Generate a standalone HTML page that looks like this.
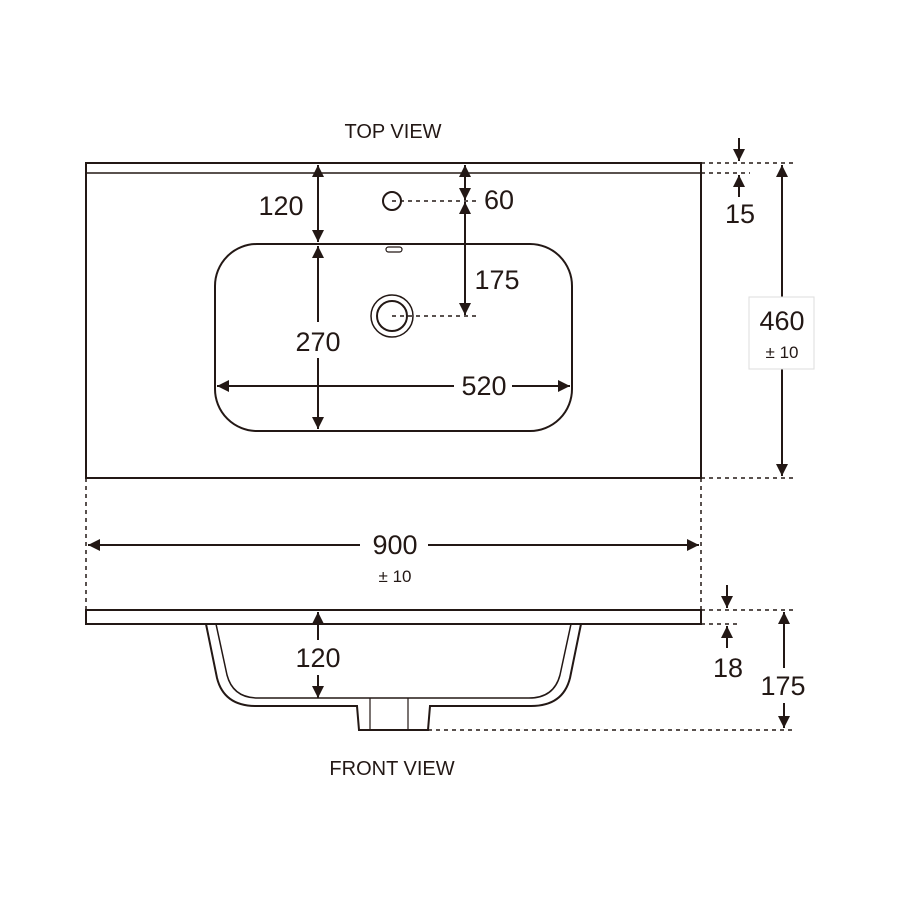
<!DOCTYPE html>
<html><head><meta charset="utf-8"><style>body{margin:0;background:#fff}svg{display:block}</style></head><body>
<svg width="900" height="900" viewBox="0 0 900 900" xmlns="http://www.w3.org/2000/svg" font-family="'Liberation Sans',sans-serif" fill="#231815">
<defs>
<marker id="a" viewBox="0 0 10 10" refX="10" refY="5" markerWidth="12" markerHeight="12" markerUnits="userSpaceOnUse" orient="auto-start-reverse"><path d="M0,0L10,5L0,10z" fill="#231815"/></marker>
</defs>
<g stroke="#231815" fill="none" stroke-width="2">
<rect x="86" y="163" width="615" height="315"/>
<line x1="86" y1="173" x2="701" y2="173" stroke-width="1.5"/>
<rect x="215" y="244" width="357" height="187" rx="42"/>
<rect x="386" y="247" width="16" height="5" rx="2.5" stroke-width="1.2"/>
<circle cx="392" cy="201" r="9"/>
<circle cx="392" cy="316" r="21" stroke-width="1.5"/>
<circle cx="392" cy="316" r="15"/>
<g stroke-dasharray="4,4" stroke-width="1.5">
<line x1="392" y1="201" x2="480" y2="201"/>
<line x1="392" y1="316" x2="476" y2="316"/>
<line x1="701" y1="163" x2="795" y2="163"/>
<line x1="701" y1="173" x2="750" y2="173"/>
<line x1="701" y1="478" x2="795" y2="478"/>
<line x1="86" y1="478" x2="86" y2="610"/>
<line x1="701" y1="478" x2="701" y2="610"/>
<line x1="701" y1="610" x2="795" y2="610"/>
<line x1="701" y1="624" x2="740" y2="624"/>
<line x1="428" y1="730" x2="795" y2="730"/>
</g>
<g stroke-width="2">
<line x1="318" y1="165" x2="318" y2="242" marker-start="url(#a)" marker-end="url(#a)"/>
<line x1="318" y1="246" x2="318" y2="322" marker-start="url(#a)"/>
<line x1="318" y1="358" x2="318" y2="429" marker-end="url(#a)"/>
<line x1="465" y1="165" x2="465" y2="200" marker-start="url(#a)" marker-end="url(#a)"/>
<line x1="465" y1="202" x2="465" y2="315" marker-start="url(#a)" marker-end="url(#a)"/>
<line x1="217" y1="386" x2="454" y2="386" marker-start="url(#a)"/>
<line x1="512" y1="386" x2="570" y2="386" marker-end="url(#a)"/>
<line x1="782" y1="165" x2="782" y2="297" marker-start="url(#a)"/>
<line x1="782" y1="369" x2="782" y2="476" marker-end="url(#a)"/>
<line x1="739" y1="138" x2="739" y2="161" marker-end="url(#a)"/>
<line x1="739" y1="197" x2="739" y2="175" marker-end="url(#a)"/>
<line x1="88" y1="545" x2="360" y2="545" marker-start="url(#a)"/>
<line x1="428" y1="545" x2="699" y2="545" marker-end="url(#a)"/>
<line x1="727" y1="585" x2="727" y2="608" marker-end="url(#a)"/>
<line x1="727" y1="648" x2="727" y2="626" marker-end="url(#a)"/>
<line x1="784" y1="612" x2="784" y2="668" marker-start="url(#a)"/>
<line x1="784" y1="703" x2="784" y2="728" marker-end="url(#a)"/>
<line x1="318" y1="612" x2="318" y2="640" marker-start="url(#a)"/>
<line x1="318" y1="675" x2="318" y2="698" marker-end="url(#a)"/>
</g>
<rect x="86" y="610" width="615" height="14"/>
<path d="M206,624 L217,678 Q224,706 256,706 L357,706 L359,730 L428,730 L430,706 L531,706 Q563,706 570,678 L581,624"/>
<path d="M216,624 L227,675 Q233,698 258,698 L529,698 Q554,698 560,675 L571,624" stroke-width="1.5"/>
<line x1="370" y1="698" x2="370" y2="730" stroke-width="1.2"/>
<line x1="408" y1="698" x2="408" y2="730" stroke-width="1.2"/>
</g>
<rect x="749" y="297" width="65" height="72" fill="#fff" stroke="#ddd" stroke-width="1"/>
<g font-size="27" text-anchor="middle">
<text x="281" y="215">120</text>
<text x="499" y="209">60</text>
<text x="497" y="289">175</text>
<text x="318" y="351">270</text>
<text x="484" y="395">520</text>
<text x="782" y="330">460</text>
<text x="740" y="223">15</text>
<text x="395" y="554">900</text>
<text x="318" y="667">120</text>
<text x="728" y="677">18</text>
<text x="783" y="695">175</text>
</g>
<g font-size="17" text-anchor="middle">
<text x="782" y="358">± 10</text>
<text x="395" y="582">± 10</text>
</g>
<g font-size="20" text-anchor="middle">
<text x="393" y="138">TOP VIEW</text>
<text x="392" y="775">FRONT VIEW</text>
</g>
</svg>
</body></html>
